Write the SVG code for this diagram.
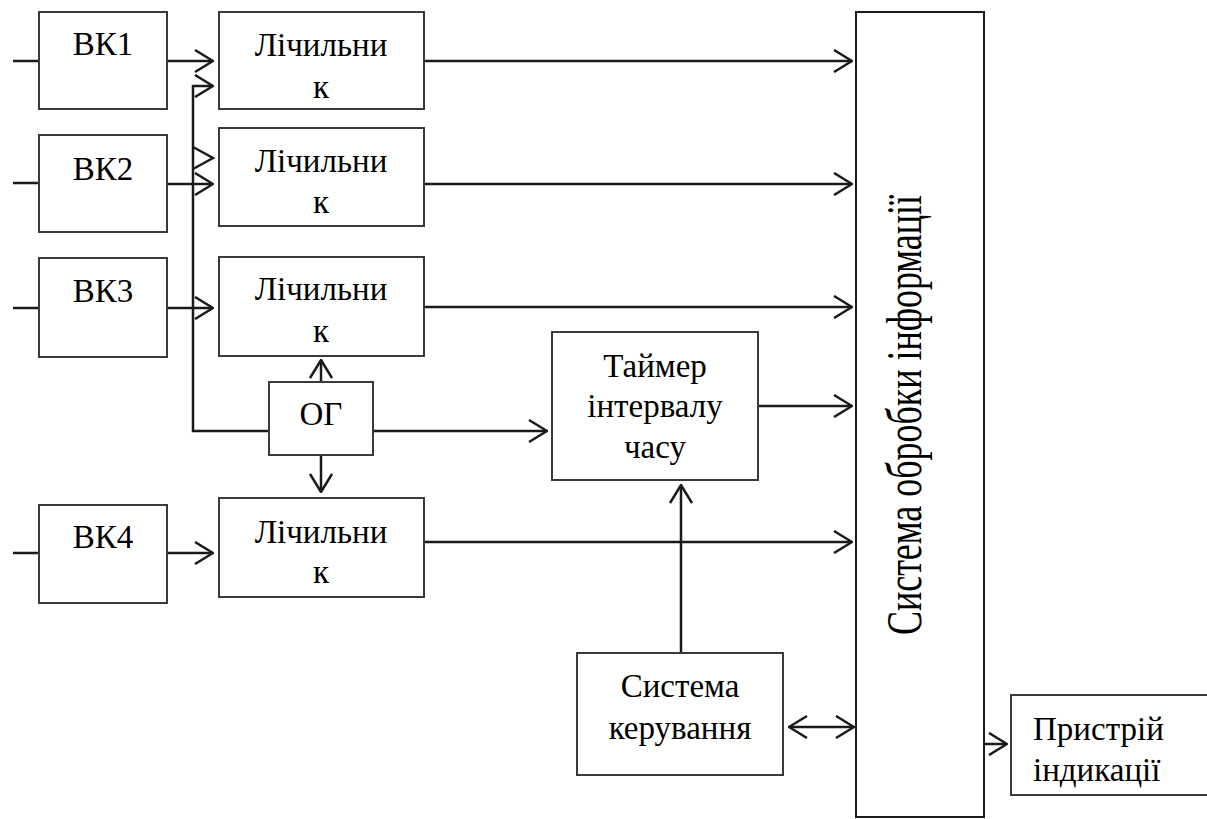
<svg xmlns="http://www.w3.org/2000/svg" width="1207" height="819" viewBox="0 0 1207 819">
<defs>
<marker id="arr" viewBox="0 0 20 24" refX="19" refY="12" markerWidth="20" markerHeight="24" markerUnits="userSpaceOnUse" orient="auto-start-reverse">
<path d="M1,1 L19,12 L1,23" fill="none" stroke="#1a1a1a" stroke-width="2.5"/>
</marker>
<style>
.box{fill:#fff;stroke:#3a3a3a;stroke-width:2}
.big{fill:#fff;stroke:#1a1a1a;stroke-width:2}
.ln{fill:none;stroke:#1a1a1a;stroke-width:2.5}
.ar{fill:none;stroke:#1a1a1a;stroke-width:2.5;marker-end:url(#arr)}
.t{font-family:'Liberation Serif','Times New Roman',serif;font-size:33px;fill:#000;text-anchor:middle}
.s{text-anchor:start}
.v{font-family:'Liberation Serif','Times New Roman',serif;font-size:50px;fill:#000}
</style>
</defs>
<rect width="1207" height="819" fill="#fff"/>
<g id="connectors">
<path class="ln" d="M13 61H39M13 183H39M13 308H39M13 553H39"/>
<path class="ar" d="M167 61H213"/>
<path class="ar" d="M167 184H213"/>
<path class="ar" d="M167 308H213"/>
<path class="ar" d="M167 553H213"/>
<path class="ar" d="M269 431H193V86H213"/>
<path class="ln" d="M193 147L213 158L193 169"/>
<path class="ar" d="M423 61H852"/>
<path class="ar" d="M423 184H852"/>
<path class="ar" d="M423 307H852"/>
<path class="ar" d="M423 542H852"/>
<path class="ar" d="M758 406H852"/>
<path class="ar" d="M373 431H547"/>
<path class="ar" d="M321 382V360"/>
<path class="ar" d="M321 455V492"/>
<path class="ar" d="M681 653V485"/>
<path class="ln" d="M789 727H854" marker-start="url(#arr)" marker-end="url(#arr)"/>
<path class="ar" d="M984 744H1007"/>
</g>
<g id="vk1"><rect class="box" x="39" y="12" width="128" height="97"/><text class="t" x="103" y="55">ВК1</text></g>
<g id="vk2"><rect class="box" x="39" y="135" width="128" height="97"/><text class="t" x="103" y="180">ВК2</text></g>
<g id="vk3"><rect class="box" x="39" y="258" width="128" height="99"/><text class="t" x="103" y="302">ВК3</text></g>
<g id="vk4"><rect class="box" x="39" y="505" width="128" height="98"/><text class="t" x="103" y="548">ВК4</text></g>
<g id="counter1"><rect class="box" x="219" y="12" width="205" height="97"/><text class="t" x="321" y="56">Лічильни</text><text class="t" x="321" y="98">к</text></g>
<g id="counter2"><rect class="box" x="219" y="128" width="205" height="98"/><text class="t" x="321" y="172">Лічильни</text><text class="t" x="321" y="213">к</text></g>
<g id="counter3"><rect class="box" x="219" y="257" width="205" height="99"/><text class="t" x="321" y="300">Лічильни</text><text class="t" x="321" y="342">к</text></g>
<g id="counter4"><rect class="box" x="219" y="498" width="205" height="99"/><text class="t" x="321" y="543">Лічильни</text><text class="t" x="321" y="583">к</text></g>
<g id="og"><rect class="box" x="269" y="382" width="104" height="73"/><text class="t" x="321" y="425">ОГ</text></g>
<g id="timer"><rect class="box" x="552" y="332" width="206" height="148"/><text class="t" x="655" y="377">Таймер</text><text class="t" x="655" y="417">інтервалу</text><text class="t" x="655" y="458">часу</text></g>
<g id="control"><rect class="box" x="577" y="653" width="206" height="122"/><text class="t" x="680" y="697">Система</text><text class="t" x="680" y="739">керування</text></g>
<g id="processing"><rect class="big" x="856" y="12" width="128" height="805"/><text class="v" x="921" y="635" transform="rotate(-90 921 635)" textLength="440" lengthAdjust="spacingAndGlyphs">Система обробки інформації</text></g>
<g id="indicator"><rect class="box" x="1011" y="695" width="210" height="100"/><text class="t s" x="1033" y="740">Пристрій</text><text class="t s" x="1033" y="781">індикації</text></g>
</svg>
